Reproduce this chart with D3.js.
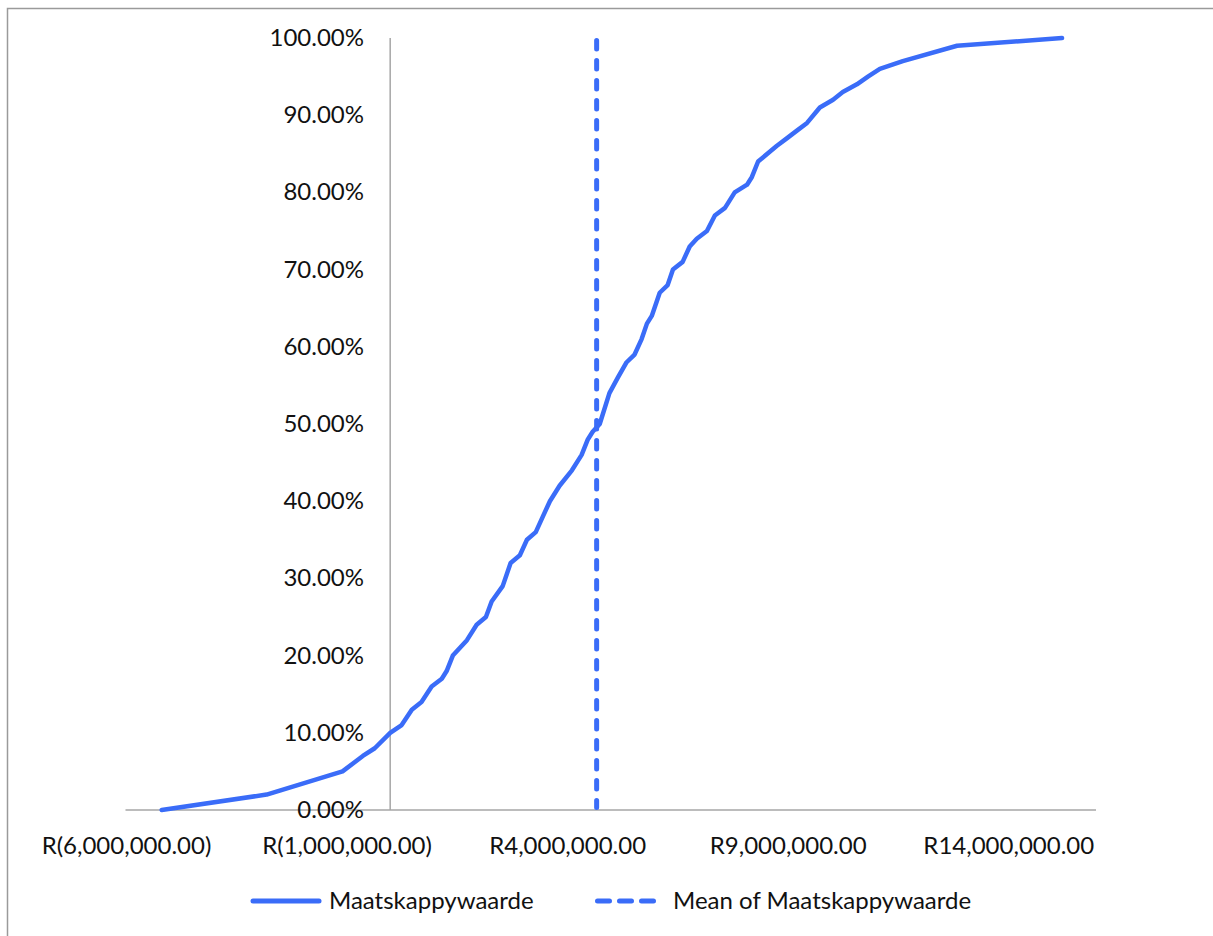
<!DOCTYPE html>
<html>
<head>
<meta charset="utf-8">
<script src="https://cdn.jsdelivr.net/npm/d3@7"></script>
<style>
  html, body { margin: 0; padding: 0; background: #fff; }
  svg text { font-family: "Lato", "Liberation Sans", sans-serif; fill: #111; }
</style>
</head>
<body>
<svg id="chart" width="1213" height="936"></svg>
<script>
// cumulative distribution of company value (millions of rand) vs percentile
const values = [
  -5.18, -2.80, -1.08, -0.62, -0.35, 0.0, 0.26, 0.49, 0.71, 0.94, 1.17, 1.28, 1.42,
  1.74, 1.96, 2.17, 2.30, 2.55, 2.73, 2.94, 3.10, 3.30, 3.46, 3.62, 3.84, 4.12,
  4.34, 4.48, 4.59, 4.75, 4.97, 5.16, 5.36, 5.54, 5.70, 5.82, 5.93, 6.11, 6.29,
  6.41, 6.63, 6.79, 6.95, 7.18, 7.36, 7.59, 7.70, 7.81, 8.09, 8.20, 8.34, 8.76,
  8.99, 9.22, 9.45, 9.74, 10.04, 10.26, 10.58, 10.83, 11.10, 11.62, 12.85, 15.23
];
const percentiles = [
  0, 2, 5, 7, 8, 10, 11, 13, 14, 16, 17, 18, 20,
  22, 24, 25, 27, 29, 32, 33, 35, 36, 38, 40, 42, 44,
  46, 48, 49, 50, 54, 56, 58, 59, 61, 63, 64, 67, 68,
  70, 71, 73, 74, 75, 77, 78, 79, 80, 81, 82, 84, 86,
  87, 88, 89, 91, 92, 93, 94, 95, 96, 97, 99, 100
];
const meanValue = 4.68;
const xTicks = [-6, -1, 4, 9, 14];
const yTicks = [0, 10, 20, 30, 40, 50, 60, 70, 80, 90, 100];
const seriesNames = ["Maatskappywaarde", "Mean of Maatskappywaarde"];

const blue = "#3a6cf8";
const axisGrey = "#a6a6a6";
const fontSize = 24;

const svg = d3.select("#chart");

// chart area border
svg.append("rect")
  .attr("x", 7.5).attr("y", 8.5)
  .attr("width", 1240).attr("height", 960)
  .attr("fill", "none")
  .attr("stroke", "#9a9a9a")
  .attr("stroke-width", 1.5);

const x = d3.scaleLinear().domain([-6, 16]).range([125.5, 1096]);
const y = d3.scaleLinear().domain([0, 100]).range([810, 38]);

const fmtMoney = (m) => {
  const s = d3.format(",.2f")(Math.abs(m) * 1e6);
  return m < 0 ? `R(${s})` : `R${s}`;
};

// x axis line at y = 0
svg.append("line")
  .attr("x1", x(-6)).attr("x2", x(16))
  .attr("y1", y(0)).attr("y2", y(0))
  .attr("stroke", axisGrey).attr("stroke-width", 1.5);

// y axis line at x = 0
svg.append("line")
  .attr("x1", x(0)).attr("x2", x(0))
  .attr("y1", y(0)).attr("y2", y(100))
  .attr("stroke", axisGrey).attr("stroke-width", 1.5);

svg.append("g")
  .selectAll("text")
  .data(xTicks)
  .join("text")
  .attr("x", (d) => x(d) + 1)
  .attr("y", 854)
  .attr("text-anchor", "middle")
  .attr("font-size", fontSize)
  .text(fmtMoney);

svg.append("g")
  .selectAll("text")
  .data(yTicks)
  .join("text")
  .attr("x", 364)
  .attr("y", (d) => y(d) + 8)
  .attr("text-anchor", "end")
  .attr("font-size", fontSize)
  .text((d) => d3.format(".2f")(d) + "%");

const line = d3.line()
  .x((d) => x(d[0]))
  .y((d) => y(d[1]));

svg.append("path")
  .datum(values.map((v, i) => [v, percentiles[i]]))
  .attr("d", line)
  .attr("fill", "none")
  .attr("stroke", blue)
  .attr("stroke-width", 4.5)
  .attr("stroke-linejoin", "round")
  .attr("stroke-linecap", "round");

svg.append("line")
  .attr("x1", x(meanValue)).attr("x2", x(meanValue))
  .attr("y1", y(100) + 2.5).attr("y2", y(0) - 2.5)
  .attr("stroke", blue)
  .attr("stroke-width", 5)
  .attr("stroke-dasharray", "8.5 11.5")
  .attr("stroke-linecap", "round");

// legend
const legend = svg.append("g");
legend.append("line")
  .attr("x1", 253).attr("x2", 319)
  .attr("y1", 901).attr("y2", 901)
  .attr("stroke", blue).attr("stroke-width", 5)
  .attr("stroke-linecap", "round");
legend.append("text")
  .attr("x", 329).attr("y", 909)
  .attr("font-size", fontSize)
  .text(seriesNames[0]);
legend.append("line")
  .attr("x1", 597.5).attr("x2", 655)
  .attr("y1", 901).attr("y2", 901)
  .attr("stroke", blue).attr("stroke-width", 5)
  .attr("stroke-dasharray", "12 10")
  .attr("stroke-linecap", "round");
legend.append("text")
  .attr("x", 673).attr("y", 909)
  .attr("font-size", fontSize)
  .text(seriesNames[1]);
</script>
</body>
</html>
